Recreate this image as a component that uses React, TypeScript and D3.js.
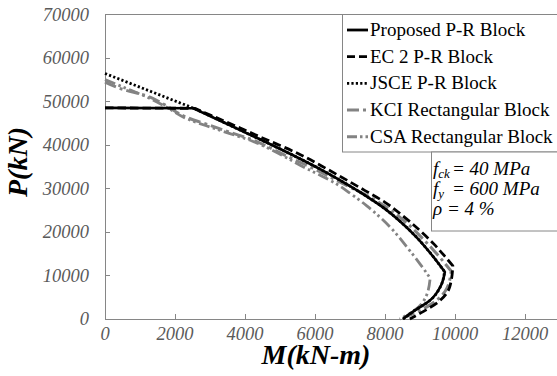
import React from "react";
import * as d3 from "d3";

const W = 557;
const H = 376;

const xTicks = [0, 2000, 4000, 6000, 8000, 10000, 12000];
const yTicks = [0, 10000, 20000, 30000, 40000, 50000, 60000, 70000];

const seriesNames = [
  "Proposed P-R Block",
  "EC 2 P-R Block",
  "JSCE P-R Block",
  "KCI Rectangular Block",
  "CSA Rectangular Block",
];

const proposedM = [0, 2520, 3570, 4500, 5500, 6200, 6710, 7430, 8000, 8490, 8910, 9310, 9710, 9600, 9290, 8800, 8510];
const proposedP = [48500, 48400, 44500, 41000, 37100, 34200, 31900, 28400, 25300, 22000, 18700, 15000, 10800, 7700, 4300, 1700, 0];

const ec2M = [0, 2560, 3570, 4500, 5570, 6200, 6710, 7430, 8000, 8510, 9000, 9400, 9710, 9940, 9850, 9520, 9090, 8710];
const ec2P = [48500, 48400, 44900, 41600, 37800, 35100, 32800, 29500, 26800, 23700, 20300, 17200, 14400, 12200, 7400, 3900, 1700, 0];

const jsceM = [0, 2570, 3570, 4500, 5500, 6200, 6710, 7430, 8000, 8490, 8910, 9310, 9700, 9600, 9290, 8800, 8520];
const jsceP = [56400, 48300, 44500, 41000, 37100, 34200, 31900, 28400, 25300, 22000, 18700, 15000, 10900, 7700, 4300, 1700, 0];

const kciM = [0, 570, 1140, 1710, 2340, 3000, 3570, 4200, 4700, 5200, 5770, 6340, 6900, 7570, 8000, 8500, 9000, 9400, 9890, 9770, 9300, 8800, 8430];
const kciP = [54400, 52600, 51400, 49200, 46300, 44500, 42900, 41200, 39400, 37400, 35300, 33000, 30700, 28000, 25900, 22900, 19100, 15700, 11000, 7100, 3300, 1200, 0];

const csaM = [0, 570, 1140, 1710, 2340, 3000, 3570, 4200, 4700, 5200, 5700, 6200, 6620, 7000, 7480, 7800, 8160, 8600, 8950, 9290, 9190, 8860, 8420];
const csaP = [55000, 53100, 51200, 48900, 46000, 44100, 42600, 40900, 39100, 37000, 34800, 32800, 31000, 28900, 26000, 23800, 21000, 16800, 13200, 9400, 5500, 2100, 0];

const paramLines = [
  { sym: "f", sub: "ck", val: "= 40 MPa" },
  { sym: "f", sub: "y", val: "= 600 MPa" },
  { sym: "ρ", sub: "", val: "= 4 %" },
];

const SERIF = '"Liberation Serif", serif';
const AXIS_GRAY = "#868686";
const GRAY = "#838383";

type Pt = [number, number];

export default function App() {
  const x = d3.scaleLinear().domain([0, 12000]).range([105, 525]);
  const y = d3.scaleLinear().domain([0, 70000]).range([319, 14.3]);

  const linear = d3
    .line<Pt>()
    .x((d) => x(d[0]))
    .y((d) => y(d[1]))
    .curve(d3.curveLinear);
  const smooth = d3
    .line<Pt>()
    .x((d) => x(d[0]))
    .y((d) => y(d[1]))
    .curve(d3.curveMonotoneY);

  const zip = (m: number[], p: number[]) => m.map((v, i) => [v, p[i]] as Pt);

  // kink: end of straight head; nose: balance point
  const buildPath = (data: Pt[], kink: number, nose: number) => {
    const strip = (s: string) => s.replace(/^M[^A-Za-z]*/, "");
    let d = kink > 0 ? linear(data.slice(0, kink + 1)) || "" : "";
    const upper = smooth(data.slice(kink, nose + 1)) || "";
    const lower = smooth(data.slice(nose)) || "";
    d = d ? d + strip(upper) : upper;
    return d + strip(lower);
  };

  const series = [
    { name: seriesNames[4], data: zip(csaM, csaP), kink: 0, nose: 19, color: GRAY, width: 2.8, dash: "11,3.5,2.5,3,2.5,3.5" },
    { name: seriesNames[3], data: zip(kciM, kciP), kink: 0, nose: 18, color: GRAY, width: 3, dash: "12,4,3,4" },
    { name: seriesNames[2], data: zip(jsceM, jsceP), kink: 1, nose: 12, color: "#000", width: 2.8, dash: "2.2,2.2" },
    { name: seriesNames[0], data: zip(proposedM, proposedP), kink: 1, nose: 12, color: "#000", width: 2.6, dash: "" },
    { name: seriesNames[1], data: zip(ec2M, ec2P), kink: 1, nose: 13, color: "#000", width: 2.8, dash: "8.5,4" },
  ];

  const legendStyles = [
    { color: "#000", width: 2.8, dash: "" },
    { color: "#000", width: 2.8, dash: "8,4" },
    { color: "#000", width: 2.8, dash: "2.2,2.2" },
    { color: GRAY, width: 3, dash: "12,4,3,4" },
    { color: GRAY, width: 3, dash: "10,3,2.5,3,2.5,3" },
  ];

  const legendBaselines = [36, 62.7, 89.4, 116, 142.7];
  const paramBaselines = [174.5, 195, 214.5];
  const serif = { fontFamily: SERIF };

  return (
    <svg width={W} height={H} style={{ position: "absolute", left: 0, top: 0, background: "#fff" }}>
      <rect x={0} y={0} width={W} height={H} fill="#fff" />

      {/* frame */}
      <line x1={105} y1={14.5} x2={W} y2={14.5} stroke={AXIS_GRAY} strokeWidth={1} />
      <line x1={105.5} y1={14} x2={105.5} y2={319.5} stroke={AXIS_GRAY} strokeWidth={1} />
      <line x1={105} y1={319.5} x2={W} y2={319.5} stroke={AXIS_GRAY} strokeWidth={1} />

      {/* y ticks */}
      {yTicks.map((t) => (
        <g key={"y" + t}>
          <line x1={105} x2={110} y1={Math.round(y(t)) + 0.5} y2={Math.round(y(t)) + 0.5} stroke={AXIS_GRAY} />
          <text x={89} y={y(t) + 6.3} textAnchor="end" fontSize={18.5} fontStyle="italic" fill="#5a5a5a" style={serif}>
            {t}
          </text>
        </g>
      ))}

      {/* x ticks */}
      {xTicks.map((t) => (
        <g key={"x" + t}>
          <line x1={Math.round(x(t)) + 0.5} x2={Math.round(x(t)) + 0.5} y1={319} y2={314} stroke={AXIS_GRAY} />
          <text x={x(t)} y={340} textAnchor="middle" fontSize={18.5} fontStyle="italic" fill="#5a5a5a" style={serif}>
            {t}
          </text>
        </g>
      ))}

      {/* curves */}
      {series.map((s) => (
        <path
          key={s.name}
          d={buildPath(s.data, s.kink, s.nose)}
          fill="none"
          stroke={s.color}
          strokeWidth={s.width}
          strokeDasharray={s.dash || undefined}
          strokeLinejoin="round"
        />
      ))}

      {/* legend */}
      <rect x={342.5} y={14.5} width={260} height={137.5} fill="#fff" stroke={AXIS_GRAY} strokeWidth={1} />
      {seriesNames.map((n, i) => (
        <g key={n}>
          <line
            x1={347}
            x2={368}
            y1={legendBaselines[i] - 6}
            y2={legendBaselines[i] - 6}
            stroke={legendStyles[i].color}
            strokeWidth={legendStyles[i].width}
            strokeDasharray={legendStyles[i].dash || undefined}
          />
          <text x={370} y={legendBaselines[i]} fontSize={19} fill="#000" style={serif}>
            {n}
          </text>
        </g>
      ))}

      {/* parameter box */}
      <rect x={431.5} y={152} width={200} height={79} fill="#fff" stroke={AXIS_GRAY} strokeWidth={1} />
      {paramLines.map((p, i) => (
        <text key={i} x={433} y={paramBaselines[i]} fontSize={19} fontStyle="italic" fill="#000" style={serif}>
          <tspan>{p.sym}</tspan>
          {p.sub ? (
            <tspan fontSize={13} dy={3}>
              {p.sub}
            </tspan>
          ) : null}
          <tspan x={i === 2 ? 447 : 452} dy={p.sub ? -3 : 0}>
            {p.val}
          </tspan>
        </text>
      ))}

      {/* axis titles */}
      <text
        transform={`translate(27,162) rotate(-90)`}
        textAnchor="middle"
        fontSize={28}
        fontWeight="bold"
        fontStyle="italic"
        fill="#000"
        style={serif}
      >
        P(kN)
      </text>
      <text x={316} y={364} textAnchor="middle" fontSize={28} fontWeight="bold" fontStyle="italic" fill="#000" style={serif}>
        M(kN-m)
      </text>
    </svg>
  );
}
